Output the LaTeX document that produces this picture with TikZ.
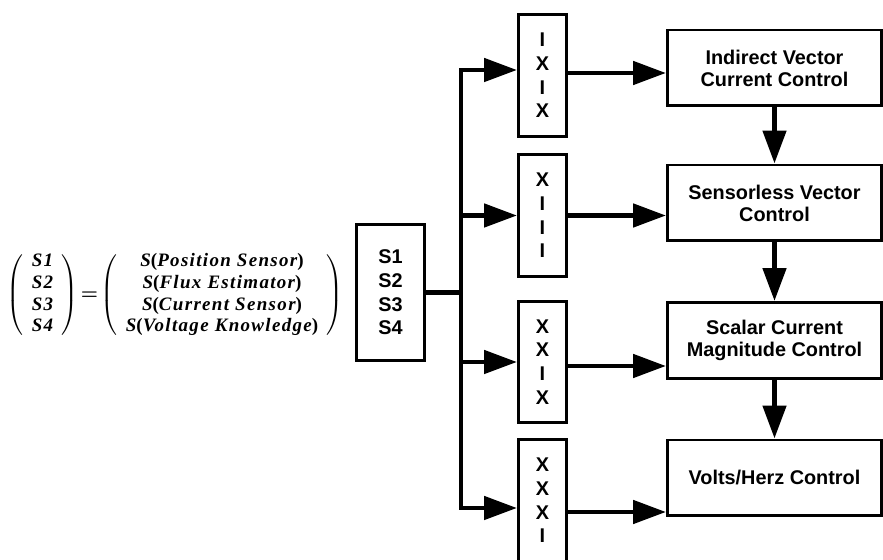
\documentclass[tikz,border=0pt]{standalone}
\usepackage{fontspec}
\setsansfont{Liberation Sans}
\newfontfamily\eqfont[LetterSpace=7]{Liberation Serif}
\newcommand{\sterm}[1]{{\eqfont\bfseries\itshape S}{\eqfont\bfseries(}{\eqfont\bfseries\itshape #1}{\eqfont\bfseries)}}
\usepackage{amsmath}
\usetikzlibrary{arrows.meta}
\begin{document}
\begin{tikzpicture}[x=0.02cm,y=-0.02cm,
  ctrlbox/.style={draw,line width=1.7pt,minimum width=4.28cm,minimum height=1.52cm,inner sep=0pt,align=center,font=\fontsize{11.3}{12.5}\selectfont\sffamily\bfseries},
  patbox/.style={draw,line width=1.7pt,minimum width=0.96cm,minimum height=2.44cm,inner sep=0pt,align=center,font=\fontsize{11.3}{13.5}\selectfont\sffamily\bfseries},
  wire/.style={line width=2.83pt},
  arr/.style={wire,-{Triangle[length=18.7pt,width=13pt]}}]
\useasboundingbox (0,0) rectangle (883,560);
\node[anchor=center] (eqn) at (175,295) {\fontsize{10.8}{12.3}\selectfont\delimiterfactor=700 $\left(\begin{array}{c}\text{\eqfont\bfseries\itshape S1}\\ \text{\eqfont\bfseries\itshape S2}\\ \text{\eqfont\bfseries\itshape S3}\\ \text{\eqfont\bfseries\itshape S4}\end{array}\right)\!\boldsymbol{=}\!\left(\begin{array}{c}\text{\sterm{Position Sensor}}\\ \text{\sterm{Flux Estimator}}\\ \text{\sterm{Current Sensor}}\\ \text{\sterm{Voltage Knowledge}}\end{array}\right)$};
\node[patbox,minimum width=1.36cm,minimum height=2.72cm] (sbox) at (390.5,292.5) {S1\\S2\\S3\\S4};
\node[patbox] (pat1) at (542.5,75.5) {I\\X\\I\\X};
\node[patbox] (pat2) at (542.5,215.5) {X\\I\\I\\I};
\node[patbox] (pat3) at (542.5,362) {X\\X\\I\\X};
\node[patbox] (pat4) at (542.5,500.5) {X\\X\\X\\I};
\node[ctrlbox] (ivcc) at (774.5,68) {Indirect Vector\\Current Control};
\node[ctrlbox] (svc) at (774.5,203) {Sensorless Vector\\Control};
\node[ctrlbox] (scmc) at (774.5,340.5) {Scalar Current\\Magnitude Control};
\node[ctrlbox] (vhc) at (774.5,478) {Volts/Herz Control};
\coordinate (bus) at (461,292.5);
\draw[wire] (sbox.east) -- (bus);
\draw[arr] (bus) |- ([yshift=0.11cm]pat1.west);
\draw[arr] (bus) |- (pat2.west);
\draw[arr] (bus) |- (pat3.west);
\draw[arr] (bus) |- ([yshift=-0.15cm]pat4.west);
\draw[arr] ([yshift=0.05cm]pat1.east) -- ([yshift=0.05cm]pat1.east -| ivcc.west);
\draw[arr] (pat2.east) -- (pat2.east -| svc.west);
\draw[arr] ([yshift=-0.08cm]pat3.east) -- ([yshift=-0.08cm]pat3.east -| scmc.west);
\draw[arr] ([yshift=-0.23cm]pat4.east) -- ([yshift=-0.23cm]pat4.east -| vhc.west);
\draw[arr] (ivcc.south) -- (svc.north);
\draw[arr] (svc.south) -- (scmc.north);
\draw[arr] (scmc.south) -- (vhc.north);
\end{tikzpicture}
\end{document}
